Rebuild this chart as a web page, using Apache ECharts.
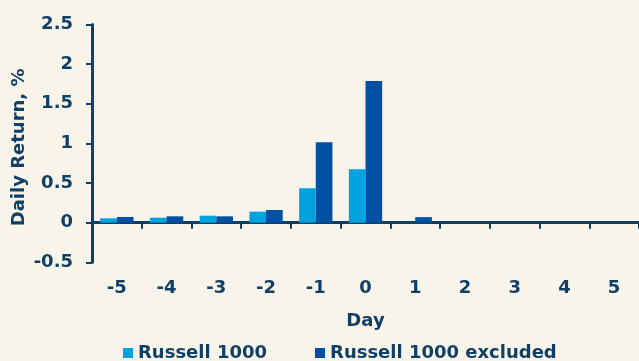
<!DOCTYPE html>
<html>
<head>
<meta charset="utf-8">
<script src="https://cdn.jsdelivr.net/npm/echarts@6/dist/echarts.min.js"></script>
<style>
html,body{margin:0;padding:0;background:#F8F4EA;}
#c{width:639px;height:361px;}
</style>
</head>
<body>
<div id="c"></div>
<script>
var days = ['-5','-4','-3','-2','-1','0','1','2','3','4','5'];
var russell1000 = [0.055,0.063,0.088,0.139,0.434,0.673,0,0,0,0,0];
var russell1000Excluded = [0.072,0.08,0.08,0.16,1.014,1.787,0.07,0,0,0,0];
var yMin = -0.5, yMax = 2.5, yStep = 0.5;

var navy = '#103F65';
var font = 'DejaVu Sans';
var chart = echarts.init(document.getElementById('c'), null, {renderer:'canvas'});
chart.setOption({
  backgroundColor: '#F8F4EA',
  animation: false,
  textStyle: {fontFamily: font, fontWeight: 'bold', color: navy},
  grid: {left: 92, right: 0, top: 24.5, bottom: 98.7, containLabel: false, outerBoundsMode: 'none'},
  legend: {
    left: 123, top: 344, padding: 0,
    itemWidth: 10, itemHeight: 10, itemGap: 48,
    icon: 'rect',
    textStyle: {fontFamily: font, fontWeight: 'bold', fontSize: 18, color: navy},
    data: ['Russell 1000', 'Russell 1000 excluded']
  },
  xAxis: {
    type: 'category',
    data: days,
    name: 'Day',
    nameLocation: 'middle',
    nameGap: 50,
    nameMoveOverlap: false,
    nameTextStyle: {fontFamily: font, fontWeight: 'bold', fontSize: 18, color: navy},
    axisLine: {onZero: true, lineStyle: {color: navy, width: 3}},
    axisTick: {show: true, length: 6, lineStyle: {color: navy, width: 2}},
    axisLabel: {margin: 17, fontFamily: font, fontWeight: 'bold', fontSize: 18, color: navy}
  },
  yAxis: {
    type: 'value',
    min: yMin, max: yMax, interval: yStep,
    name: 'Daily Return, %',
    nameLocation: 'middle',
    nameGap: 64,
    nameMoveOverlap: false,
    nameTextStyle: {fontFamily: font, fontWeight: 'bold', fontSize: 18, color: navy, padding: [0, 8, 0, 0]},
    axisLine: {show: true, lineStyle: {color: navy, width: 3}},
    axisTick: {show: true, length: 6, lineStyle: {color: navy, width: 2}},
    splitLine: {show: false},
    axisLabel: {margin: 19, fontFamily: font, fontWeight: 'bold', fontSize: 18, color: navy}
  },
  series: [
    {name: 'Russell 1000', type: 'bar', data: russell1000, barGap: '0%', barCategoryGap: '33%',
     itemStyle: {color: '#00A2E0'}},
    {name: 'Russell 1000 excluded', type: 'bar', data: russell1000Excluded, barGap: '0%', barCategoryGap: '33%',
     itemStyle: {color: '#0050A3'}}
  ]
});
</script>
</body>
</html>
